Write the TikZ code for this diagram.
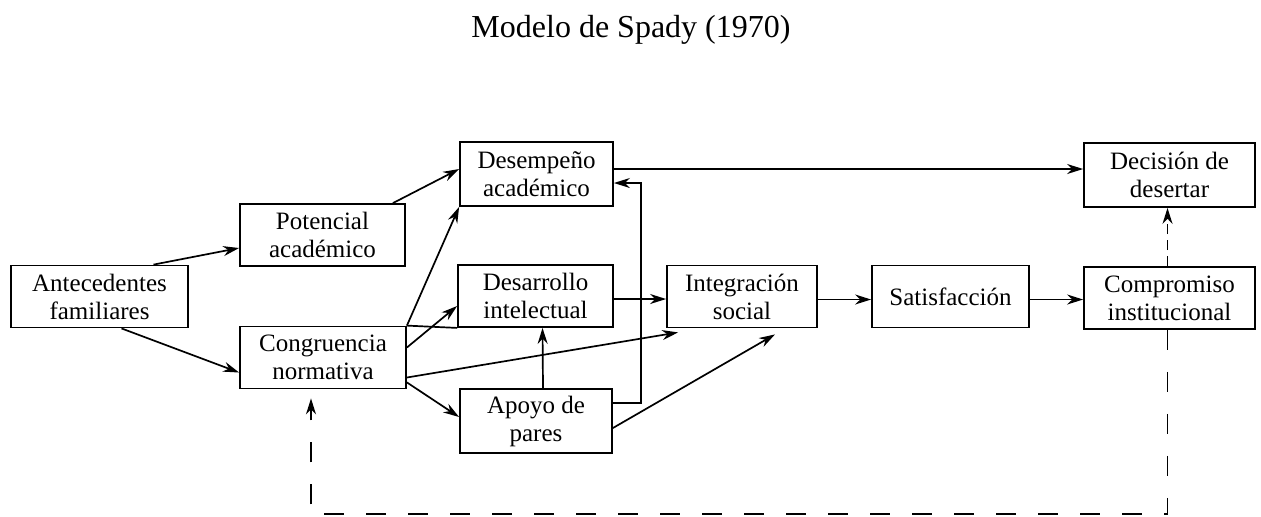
\documentclass[tikz,border=0pt]{standalone}
\usepackage{fontspec}
\setmainfont{Liberation Serif}
\usepackage{tikz}
\usetikzlibrary{calc}
\usetikzlibrary{positioning}
\usetikzlibrary{arrows.meta}
\tikzset{every picture/.style={semithick, >={Stealth[length=8pt,width=5pt]}}}
\tikzset{block/.style={draw, line width=0.9pt, align=center, inner sep=0pt, minimum height=31pt, font=\fontsize{12.5}{14}\selectfont}}
\tikzset{loopline/.style={dash pattern=on 10pt off 11pt}}

\begin{document}
\begin{tikzpicture}[x=0.5pt,y=-0.5pt,line width=0.85pt]
    \useasboundingbox (0,0) rectangle (1261,516);
    \node[font=\fontsize{16}{19}\selectfont] (title) at (631,30) {Modelo de Spady (1970)};
    \node[block, minimum width=88.5pt] (ant) at (99.5,296.5) {Antecedentes\\familiares};
    \node[block, minimum width=82.5pt] (pot) at (322.5,235) {Potencial\\académico};
    \node[block, minimum width=83pt] (con) at (323,357.5) {Congruencia\\normativa};
    \node[block, minimum width=76.5pt, minimum height=32pt] (desem) at (536.5,174) {Desempeño\\académico};
    \node[block, minimum width=77.5pt] (desar) at (535.5,296) {Desarrollo\\intelectual};
    \node[block, minimum width=76pt, minimum height=32pt] (apoyo) at (536,421) {Apoyo de\\pares};
    \node[block, minimum width=75pt] (integ) at (742,296.5) {Integración\\social};
    \node[block, minimum width=78.5pt] (satis) at (950.5,296.5) {Satisfacción};
    \node[block, minimum width=85.5pt] (compr) at (1169.5,298) {Compromiso\\institucional};
    \node[block, minimum width=85.5pt, minimum height=32pt] (decis) at (1169.5,175) {Decisión de\\desertar};
    % first column
    \draw[->] ([xshift=27pt]ant.north) -- ([yshift=-6.5pt]pot.west);
    \draw[->] ([xshift=11pt]ant.south) -- ([yshift=-7.5pt]con.west);
    \draw[->] ([xshift=-6.5pt]pot.north east) -- ([yshift=2.5pt]desem.west);
    % out of congruencia
    \draw[->] (con.north east) -- (desem.south west);
    \draw (con.north east) -- (desar.south west);
    \draw[->] ([yshift=5pt]con.east) -- ([yshift=-5pt]desar.west);
    \draw[->] ([yshift=-10pt]con.east) -- ([xshift=6pt,yshift=-2pt]integ.south west);
    \draw[->] ([yshift=3.5pt]con.south east) -- ([yshift=2pt]apoyo.west);
    % out of apoyo
    \draw[->] ([xshift=3.5pt]apoyo.north) -- ([xshift=3.5pt]desar.south);
    \draw[->] ([yshift=9pt]apoyo.east) -- ++(28,0) |- ([yshift=-4.5pt]desem.east);
    \draw[->] ([yshift=-3.5pt]apoyo.east) -- ([xshift=16.5pt,yshift=-3pt]integ.south);
    % main row
    \draw[->] ([yshift=-1.5pt]desar.east) -- ([yshift=-1.5pt]desar.east -| integ.west);
    \draw[->] ([yshift=2.5pt]desem.east) -- ([yshift=2.5pt]desem.east -| decis.west);
    \draw[->] ([yshift=-1.5pt]integ.east) -- ([yshift=-1.5pt]integ.east -| satis.west);
    \draw[->] ([yshift=-1.5pt]satis.east) -- ([yshift=-1.5pt]satis.east -| compr.west);
    % dashed links
    \draw[->, dash pattern=on 5pt off 3pt] ([xshift=-1pt]compr.north) -- ([xshift=-1pt]decis.south);
    \draw[->, loopline] ([xshift=-1pt]compr.south) -- ++(0,184) -| ([xshift=-6pt,yshift=-4.5pt]con.south);
\end{tikzpicture}
\end{document}
